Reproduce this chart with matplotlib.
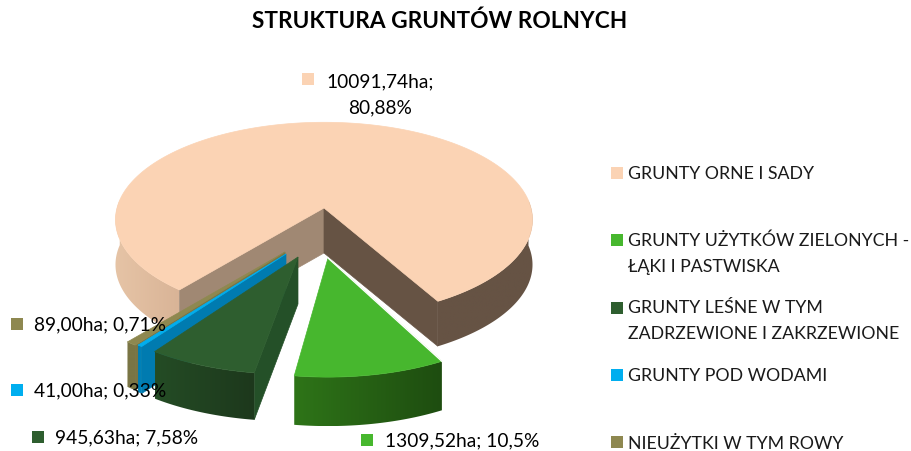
import numpy as np
import matplotlib
matplotlib.use('Agg')
import matplotlib.pyplot as plt
from matplotlib.colors import LinearSegmentedColormap
from matplotlib.patches import Polygon, Rectangle

##############################################################################
# DATA
categories = ['GRUNTY ORNE I SADY',
              'GRUNTY UŻYTKÓW ZIELONYCH -\nŁĄKI I PASTWISKA',
              'GRUNTY LEŚNE W TYM\nZADRZEWIONE I ZAKRZEWIONE',
              'GRUNTY POD WODAMI',
              'NIEUŻYTKI W TYM ROWY']
hectares = [10091.74, 1309.52, 945.63, 41.00, 89.00]
data_labels = ['10091,74ha;\n80,88%', '1309,52ha; 10,5%', '945,63ha; 7,58%',
               '41,00ha; 0,33%', '89,00ha; 0,71%']
title = 'STRUKTURA GRUNTÓW ROLNYCH'

##############################################################################
# STYLE
top_colors = ['#FBD3B4', '#47B72E', '#2E5E2F', '#00AEEF', '#8E8850']
face_colors = [None, None, '#245028', '#007BB0', '#7A7545']
wall_colors = [('#E9C5A7', '#D2AF93'), ('#2E7418', '#1E4D10'), ('#244C25', '#1D381C'),
               ('#007BB0', '#0085BD'), ('#7A7545', '#7A7545')]
legend_y = [174, 254, 321, 376, 444]
legend_marker_y = [168, 235, 303, 370, 437]
marker_xy = [(302, 74), (361, 435), (32, 432), (11, 385), (11, 319)]
label_xy = [(380, 95), (385, 441), (55, 438), (34, 391), (34, 325)]
# offset of exploded slices on screen (apex, rim), pixels
explode_apex = [(0, 0), (4, 50), (-26, 49), (-38, 46), (-39, 44)]
explode_rim = [(0, 0), (4, 60), (-36, 57), (-49, 52), (-52, 52)]
depth = [45, 49, 47, 47, 45]

# pie projection, pixels
cx, cy = 324, 209
R, S, k = 207, 96, 0.12
start_phi = -39.3  # measured from "south" towards east, clockwise is decreasing

plt.rcParams['font.family'] = ['Lato', 'DejaVu Sans']

##############################################################################

def project(phi):
    # perspective view of the unit circle
    u = np.sin(np.radians(phi))
    v = np.cos(np.radians(phi))
    den = 1 - k*v
    return cx + R*u/den, cy + S*v/den

def draw_wall(ax, x, y, h, c1, c2, zorder):
    # side of a slice, shaded from left to right
    pts = np.c_[np.r_[x, x[::-1]], np.r_[y, y[::-1] + h]]
    patch = Polygon(pts, closed=True, fc='none', ec='none', zorder=zorder)
    ax.add_patch(patch)
    cmap = LinearSegmentedColormap.from_list('wall', [c1, c2])
    im = ax.imshow(np.linspace(0, 1, 64)[None, :], cmap=cmap, aspect='auto', zorder=zorder,
                   extent=[pts[:, 0].min(), pts[:, 0].max(), pts[:, 1].max(), pts[:, 1].min()])
    im.set_clip_path(patch)

fig = plt.figure(figsize=(9.11, 4.52), dpi=100)
ax = fig.add_axes([0, 0, 1, 1])
ax.axis('off')

spans = np.array(hectares)/np.sum(hectares)*360
ends = start_phi - np.cumsum(spans)
starts = ends + spans

# big slice walls first
phi_big = np.linspace(starts[0], ends[0], 400)
xb, yb = project(phi_big)
h = depth[0]
# outer wall, left part (west corner to leftmost) and right part (rightmost to east corner)
mask_left = (phi_big <= start_phi) & (phi_big >= -95)
mask_right = phi_big <= -360 + 95
draw_wall(ax, xb[mask_left], yb[mask_left], h, '#E6C4A6', '#D9B497', 1)
draw_wall(ax, xb[mask_right], yb[mask_right], h, '#665344', '#665344', 1)
# inner walls
ax.fill([cx, xb[0], xb[0], cx], [cy, yb[0], yb[0]+h, cy+h], color='#A08873', lw=0.5, zorder=2)
ax.fill([cx, xb[-1], xb[-1], cx], [cy, yb[-1], yb[-1]+h, cy+h], color='#665344', lw=0.5, zorder=2)
ax.fill(np.r_[cx, xb], np.r_[cy, yb], color=top_colors[0], lw=0.5, zorder=3)

# exploded slices, back to front
zo = 4
for i in [4, 3, 2, 1]:
    phi = np.linspace(starts[i], ends[i], 60)
    x, y = project(phi)
    x = x + explode_rim[i][0]
    y = y + explode_rim[i][1]
    ax_, ay_ = cx + explode_apex[i][0], cy + explode_apex[i][1]
    h = depth[i]
    if face_colors[i] is not None:
        ax.fill([ax_, x[0], x[0], ax_], [ay_, y[0], y[0]+h, ay_+h],
                color=face_colors[i], lw=0.5, zorder=zo)
    draw_wall(ax, x[::-1], y[::-1], h, wall_colors[i][0], wall_colors[i][1], zo)
    ax.fill(np.r_[ax_, x], np.r_[ay_, y], color=top_colors[i], lw=0.5, zorder=zo+0.5)
    if i == 1:
        ax.plot([ax_, x[0]], [ay_, y[0]], color='white', lw=1, zorder=zo+0.6)
    zo += 1

##############################################################################
# TEXT
ax.text(440, 21, title, ha='center', va='center', fontsize=16.3, fontweight='bold',
        color='black', zorder=10)

for i in range(len(hectares)):
    mx, my = marker_xy[i]
    ax.add_patch(Rectangle((mx, my), 12, 12, color=top_colors[i], lw=0, zorder=10))
    ha = 'center' if i == 0 else 'left'
    ax.text(label_xy[i][0], label_xy[i][1], data_labels[i], ha=ha, va='center', fontsize=13.8,
            color='black', linespacing=1.6, zorder=11)
    ax.add_patch(Rectangle((611, legend_marker_y[i]), 12, 12, color=top_colors[i], lw=0, zorder=10))
    ax.text(628, legend_y[i], categories[i], ha='left', va='center', fontsize=12.8,
            color='#1a1a1a', linespacing=1.75, zorder=11)

# imshow changes the limits, so set them last
ax.set_xlim(0, 911)
ax.set_ylim(452, 0)

plt.savefig('out.png', dpi=100)
plt.close()
